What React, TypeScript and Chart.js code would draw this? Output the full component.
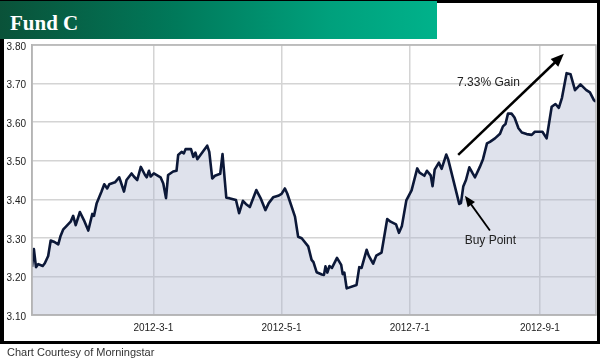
import React, { useEffect, useRef } from "react";
import { Chart, registerables } from "chart.js";

Chart.register(...registerables);

// x = day of year 2012 (Jan 1 = 0), y = fund price
const tradeDays = [
  2.2, 3.1, 4.1, 5.2, 7.3, 8.3, 9.9, 11.1, 12.6, 14.7,
  15.8, 17.1, 18.7, 20.6, 21.8, 23.0, 25.0, 26.9, 29.0, 30.9,
  31.7, 33.0, 35.3, 36.6, 38.0, 39.0, 41.7, 43.7, 44.4, 46.0,
  47.2, 49.6, 50.7, 52.3, 54.0, 56.0, 56.8, 57.9, 58.7, 60.2,
  63.4, 64.7, 66.0, 67.0, 69.4, 71.0, 71.8, 73.4, 74.5, 75.3,
  77.9, 79.0, 80.0, 80.9, 85.6, 86.6, 88.0, 89.3, 91.8, 92.9,
  94.7, 96.1, 99.3, 100.8, 102.6, 104.0, 105.9, 109.0, 111.2, 113.3,
  114.9, 117.0, 119.4, 121.0, 122.6, 123.7, 127.4, 128.9, 130.6, 133.7,
  135.3, 136.2, 137.7, 140.2, 141.2, 141.9, 142.8, 143.8, 145.0, 147.4,
  149.4, 150.1, 150.9, 152.0, 156.7, 158.0, 159.1, 161.5, 162.5, 164.6,
  166.1, 168.6, 171.3, 172.9, 175.5, 176.9, 178.3, 180.4, 182.9, 185.6,
  186.7, 189.0, 190.2, 192.0, 192.9, 193.9, 195.9, 197.2, 199.4, 200.3,
  205.6, 206.4, 207.5, 208.8, 210.4, 212.0, 213.1, 215.4, 216.9, 218.8,
  220.2, 222.6, 225.0, 226.4, 227.6, 228.8, 230.5, 231.9, 233.8, 235.4,
  237.7, 240.1, 241.6, 245.2, 247.2, 249.6, 251.4, 253.0, 254.5, 256.7,
  258.6, 260.7, 263.3, 266.1, 267.8, 269.7, 270.7,
];

const navValues = [
  3.225, 3.271, 3.224, 3.232, 3.227, 3.234, 3.253, 3.293, 3.29, 3.283,
  3.305, 3.322, 3.331, 3.342, 3.357, 3.333, 3.367, 3.346, 3.319, 3.362,
  3.357, 3.39, 3.42, 3.439, 3.428, 3.439, 3.444, 3.457, 3.446, 3.42,
  3.45, 3.467, 3.459, 3.45, 3.484, 3.463, 3.457, 3.474, 3.459, 3.467,
  3.457, 3.441, 3.403, 3.463, 3.472, 3.474, 3.515, 3.523, 3.519, 3.53,
  3.53, 3.51, 3.521, 3.504, 3.539, 3.523, 3.454, 3.461, 3.466, 3.517,
  3.404, 3.403, 3.398, 3.364, 3.396, 3.388, 3.38, 3.424, 3.401, 3.372,
  3.39, 3.405, 3.409, 3.414, 3.428, 3.415, 3.355, 3.303, 3.299, 3.278,
  3.243, 3.237, 3.211, 3.205, 3.204, 3.226, 3.21, 3.227, 3.222, 3.248,
  3.23, 3.206, 3.21, 3.169, 3.178, 3.224, 3.222, 3.269, 3.254, 3.233,
  3.254, 3.262, 3.349, 3.342, 3.335, 3.313, 3.331, 3.397, 3.423, 3.48,
  3.469, 3.461, 3.474, 3.462, 3.434, 3.477, 3.495, 3.479, 3.516, 3.504,
  3.388, 3.39, 3.433, 3.45, 3.483, 3.467, 3.457, 3.484, 3.504, 3.545,
  3.549, 3.558, 3.57, 3.589, 3.595, 3.622, 3.622, 3.612, 3.584, 3.573,
  3.569, 3.567, 3.575, 3.575, 3.558, 3.64, 3.647, 3.637, 3.663, 3.727,
  3.724, 3.683, 3.698, 3.683, 3.677, 3.657, 3.653,
];

const xTickDays = [60, 121, 182, 244];
const xTickLabels = ["2012-3-1", "2012-5-1", "2012-7-1", "2012-9-1"];
const yMin = 3.1;
const yMax = 3.8;
const yStep = 0.1;
const xMin = 2.2;
const xMax = 270.7;

// annotations in data coordinates [day, value]
const gainArrowFrom = [205.1, 3.515];
const gainArrowTo = [255.4, 3.777];
const gainLabelText = "7.33% Gain";
const gainLabelAt = [219.5, 3.701];
const buyArrowFrom = [220.2, 3.319];
const buyArrowTo = [208.3, 3.409];
const buyLabelText = "Buy Point";
const buyLabelAt = [220.4, 3.292];

const titleText = "Fund C";
const creditText = "Chart Courtesy of Morningstar";

function drawArrow(ctx: CanvasRenderingContext2D, x1: number, y1: number, x2: number, y2: number, width: number, headLen: number, headHalf: number) {
  const ang = Math.atan2(y2 - y1, x2 - x1);
  const bx = x2 - Math.cos(ang) * headLen;
  const by = y2 - Math.sin(ang) * headLen;
  ctx.save();
  ctx.strokeStyle = "#000";
  ctx.fillStyle = "#000";
  ctx.lineWidth = width;
  ctx.beginPath();
  ctx.moveTo(x1, y1);
  ctx.lineTo(bx + Math.cos(ang) * 2, by + Math.sin(ang) * 2);
  ctx.stroke();
  ctx.beginPath();
  ctx.moveTo(x2, y2);
  ctx.lineTo(bx + Math.sin(ang) * headHalf, by - Math.cos(ang) * headHalf);
  ctx.lineTo(bx - Math.sin(ang) * headHalf, by + Math.cos(ang) * headHalf);
  ctx.closePath();
  ctx.fill();
  ctx.restore();
}

const annotationPlugin = {
  id: "fundAnnotations",
  afterDatasetsDraw(chart: any) {
    const { ctx, chartArea, scales } = chart;
    const xs = scales.x;
    const ys = scales.y;
    // plot frame
    ctx.save();
    ctx.strokeStyle = "#b4b4b4";
    ctx.lineWidth = 1.5;
    ctx.strokeRect(chartArea.left, chartArea.top, chartArea.right - chartArea.left, chartArea.bottom - chartArea.top);
    ctx.restore();

    const px = (p: number[]) => [xs.getPixelForValue(p[0]), ys.getPixelForValue(p[1])];
    const [g1x, g1y] = px(gainArrowFrom);
    const [g2x, g2y] = px(gainArrowTo);
    drawArrow(ctx, g1x, g1y, g2x, g2y, 2.5, 13, 5.5);
    const [b1x, b1y] = px(buyArrowFrom);
    const [b2x, b2y] = px(buyArrowTo);
    drawArrow(ctx, b1x, b1y, b2x, b2y, 1.8, 11, 4.5);

    ctx.save();
    ctx.fillStyle = "#222";
    ctx.font = "12px 'Liberation Sans', Arial, sans-serif";
    ctx.textAlign = "center";
    ctx.textBaseline = "middle";
    const [gtx, gty] = px(gainLabelAt);
    ctx.fillText(gainLabelText, gtx, gty);
    const [btx, bty] = px(buyLabelAt);
    ctx.fillText(buyLabelText, btx, bty);
    ctx.restore();
  },
};

export default function App() {
  const canvasRef = useRef<HTMLCanvasElement | null>(null);

  useEffect(() => {
    const canvas = canvasRef.current;
    if (!canvas) return;
    const points = tradeDays.map((d, i) => ({ x: d, y: navValues[i] }));
    const tickFont = { family: "'Liberation Sans', Arial, sans-serif", size: 10 };
    const chart = new Chart(canvas, {
      type: "line",
      data: {
        datasets: [
          {
            data: points,
            borderColor: "#0c1838",
            borderWidth: 2.6,
            pointRadius: 0,
            tension: 0,
            fill: "start",
            backgroundColor: "rgba(176,182,208,0.4)",
            borderJoinStyle: "round",
          },
        ],
      },
      options: {
        animation: false,
        responsive: false,
        devicePixelRatio: 1,
        layout: { padding: { top: 45, right: 4, left: 0, bottom: 0 } },
        plugins: { legend: { display: false }, tooltip: { enabled: false } },
        scales: {
          x: {
            type: "linear",
            min: xMin,
            max: xMax,
            afterBuildTicks: (axis: any) => {
              axis.ticks = xTickDays.map((v) => ({ value: v }));
            },
            afterFit: (scale: any) => {
              scale.height = 44;
            },
            ticks: {
              autoSkip: false,
              maxRotation: 0,
              padding: 7,
              color: "#222",
              font: tickFont,
              callback: (v: any) => {
                const i = xTickDays.indexOf(Number(v));
                return i >= 0 ? xTickLabels[i] : "";
              },
            },
            grid: { color: "#d4d4d4", lineWidth: 1.5, drawTicks: false },
            border: { display: true, color: "#b4b4b4", width: 1.5 },
          },
          y: {
            type: "linear",
            min: yMin,
            max: yMax,
            afterFit: (scale: any) => {
              scale.width = 32;
            },
            ticks: {
              stepSize: yStep,
              padding: 6,
              labelOffset: 2,
              color: "#222",
              font: tickFont,
              callback: (v: any) => Number(v).toFixed(2),
            },
            grid: { color: "#d4d4d4", lineWidth: 1.5, drawTicks: false },
            border: { display: true, color: "#b4b4b4", width: 1.5 },
          },
        },
      },
      plugins: [annotationPlugin],
    } as any);
    return () => chart.destroy();
  }, []);

  return (
    <div style={{ position: "fixed", left: 0, top: 0, width: 600, height: 359, background: "#fff", overflow: "hidden" }}>
      <canvas ref={canvasRef} width={600} height={359} style={{ position: "absolute", left: 0, top: 0, display: "block" }} />
      <div
        style={{
          position: "absolute",
          left: 0,
          top: 0,
          width: 600,
          height: 344,
          boxSizing: "border-box",
          borderStyle: "solid",
          borderColor: "#000",
          borderWidth: "3px 3px 3px 4px",
          pointerEvents: "none",
        }}
      />
      <div
        style={{
          position: "absolute",
          left: 0,
          top: 1,
          width: 437,
          height: 38,
          background: "linear-gradient(to right, #0a5239 0%, #00795a 40%, #00a07c 75%, #00b28b 100%)",
        }}
      >
        <span
          style={{
            position: "absolute",
            left: 10,
            top: 0,
            lineHeight: "44px",
            fontFamily: "'Liberation Serif', 'Times New Roman', serif",
            fontWeight: "bold",
            fontSize: 21,
            color: "#fff",
            whiteSpace: "nowrap",
          }}
        >
          {titleText}
        </span>
      </div>
      <div
        style={{
          position: "absolute",
          left: 7,
          top: 345,
          lineHeight: "14px",
          fontFamily: "'Liberation Sans', Arial, sans-serif",
          fontSize: 11,
          color: "#333",
          whiteSpace: "nowrap",
        }}
      >
        {creditText}
      </div>
    </div>
  );
}
